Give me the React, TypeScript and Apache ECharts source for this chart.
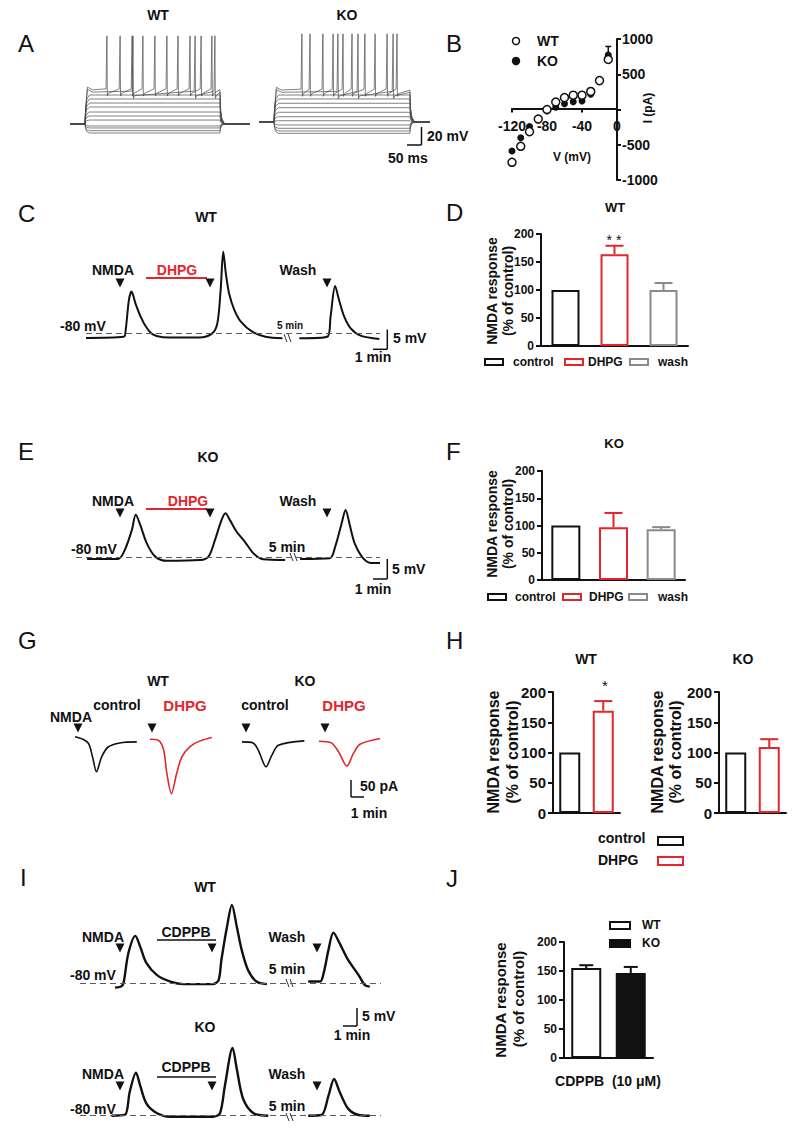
import React, { useEffect, useRef } from "react";
import * as echarts from "echarts";

const FF = "'Liberation Sans', Arial, Helvetica, sans-serif";
const FN = "'Liberation Sans Narrow', 'Liberation Sans', Arial, sans-serif";
const BLACK = "#111111";
const RED = "#e3262b";
const GRAY = "#8a8a8a";

// ---------- Panel A (current-clamp steps; ms, mV) ----------
const aRest = -70;
const aSpikePeak = 28;
const aStepOn = 50;
const aWtStepOff = 500;
const aWtEnd = 600;
const aKoStepOff = 503;
const aKoEnd = 570;
const aWtLevels = [-80, -77.4, -74.4, -72.2, -65.6, -61.1, -56.7, -51.1, -46.7, -42.2, -37.8];
const aWtPlateaus = [-32, -34.5];
const aWtSpikes1 = [123, 167, 207, 243, 283, 323, 360, 400, 437, 473];
const aWtSpikes2 = [210, 417, 483];
const aKoLevels = [-82.6, -80, -77, -73.3, -68.6, -64.1, -59.2, -54.1, -49.2, -44.4, -40];
const aKoPlateaus = [-34.5, -37];
const aKoSpikes1 = [143, 170, 213, 247, 280, 310, 353, 387, 427, 460];
const aKoSpikes2 = [263, 330, 447];

// ---------- Panel B (I-V) ----------
const bVoltage = [-120, -110, -100, -90, -80, -70, -60, -50, -40, -30, -20, -10];
const bWT = [-749, -522, -314, -135, 0, 106, 169, 203, 203, 256, 410, 710];
const bKO = [-589, -401, -242, -140, -20, 34, 82, 111, 121, 217, 400, 773];
const bKOErr = [0, 0, 0, 0, 0, 0, 0, 0, 0, 0, 0, 121];

// ---------- Panel C (WT, min / mV) ----------
const cTrace1 = [[0, -81.3], [2.9, -81.0], [3.05, -79.2], [3.3, -71.3], [3.5, -69.1], [3.8, -72.2], [4.2, -75.7], [4.6, -78.3], [5.1, -80.3], [5.9, -81.1], [8.7, -81.2], [9.7, -80.1], [10.1, -77.4], [10.35, -68.7], [10.55, -58.6], [10.75, -64.3], [11.0, -69.6], [11.4, -73.9], [11.9, -77.0], [12.8, -79.7], [13.8, -81.0], [15.1, -81.4]];
const cTrace2 = [[16.4, -81.4], [18.55, -81.0], [18.8, -75.7], [19.15, -67.6], [19.45, -71.3], [19.85, -75.7], [20.35, -78.8], [21.1, -80.7], [22.55, -81.6]];

// ---------- Panel D (WT bars) ----------
const dCats = ["control", "DHPG", "wash"];
const dValues = [100, 164, 100];
const dErrors = [0, 15, 12.5];

// ---------- Panel E (KO, min / mV) ----------
const eTrace1 = [[0.85, -80.5], [3.25, -80.5], [3.75, -78.2], [4.3, -72.9], [4.6, -68.9], [4.95, -71.6], [5.45, -76.4], [6.1, -79.9], [7.0, -81.0], [9.55, -80.8], [10.2, -79.9], [10.7, -75.5], [11.2, -70.3], [11.5, -68.5], [11.85, -70.3], [12.35, -73.3], [13.0, -76.0], [13.65, -79.0], [14.4, -80.6], [16.1, -80.8]];
const eTrace2 = [[17.25, -80.5], [19.55, -80.3], [19.95, -77.3], [20.45, -71.1], [20.75, -67.6], [21.1, -72.0], [21.45, -76.4], [22.0, -79.9], [22.6, -81.5], [23.4, -81.6]];

// ---------- Panel F (KO bars) ----------
const fCats = ["control", "DHPG", "wash"];
const fValues = [100, 97, 93];
const fErrors = [0, 26, 4];

// ---------- Panel G (voltage-clamp, min / pA) ----------
const gWtControl = [[0, 10], [0.65, 2], [1.05, -10], [1.35, -49], [1.65, -93], [2.05, -49], [2.55, -20], [3.45, -8], [4.75, -5]];
const gWtDhpg = [[0, 3], [0.65, 0], [1.05, -29], [1.3, -98], [1.65, -157], [2.05, -98], [2.45, -49], [3.1, -18], [3.85, -2], [4.75, 8]];
const gKoControl = [[0, -5], [0.85, -8], [1.25, -29], [1.85, -78], [2.3, -44], [2.8, -15], [4.8, -2]];
const gKoDhpg = [[0, -3], [0.95, -8], [1.5, -34], [2.15, -76], [2.65, -39], [3.15, -12], [4.7, 5]];

// ---------- Panel H ----------
const hCats = ["control", "DHPG"];
const hWtValues = [100, 169];
const hWtErrors = [0, 16];
const hKoValues = [100, 109];
const hKoErrors = [0, 13];

// ---------- Panel I (CDPPB, min / mV) ----------
const iWt1 = [[2.5, -81.3], [3.0, -80.8], [3.15, -79.2], [3.45, -71.8], [3.95, -66.9], [4.3, -69.9], [4.75, -74.5], [5.5, -77.8], [6.45, -79.6], [7.4, -80.3], [9.5, -80.3], [9.9, -79.2], [10.1, -73.6], [10.5, -64.4], [10.85, -58.3], [11.2, -64.4], [11.55, -70.8], [12.0, -76.4], [12.6, -79.6], [13.35, -80.3]];
const iWt2 = [[16.3, -79.6], [17.15, -79.6], [17.4, -77.3], [17.75, -70.8], [18.1, -66.0], [18.55, -69.0], [19.15, -73.6], [19.9, -77.8], [20.35, -80.6], [20.7, -81.0]];
const iKo1 = [[2.25, -80.1], [3.2, -79.9], [3.55, -73.4], [4.0, -67.9], [4.3, -71.6], [4.75, -76.7], [5.5, -79.4], [6.45, -80.4], [9.5, -80.4], [10.0, -79.4], [10.35, -71.6], [10.9, -60.9], [11.2, -66.9], [11.65, -75.3], [12.4, -79.4], [13.45, -80.1]];
const iKo2 = [[16.3, -80.1], [17.25, -79.9], [17.75, -74.4], [18.15, -69.7], [18.55, -73.4], [19.15, -78.1], [19.9, -79.9], [20.7, -80.1]];

// ---------- Panel J ----------
const jCats = ["WT", "KO"];
const jValues = [155, 146.5];
const jErrors = [5, 10.5];

// ---------- builders ----------
function stepTrace(level: number, off: number, end: number) {
  const d = level - aRest;
  return [
    [0, aRest], [aStepOn, aRest], [aStepOn + 2, aRest + 0.55 * d], [aStepOn + 6, aRest + 0.85 * d],
    [aStepOn + 15, level], [off, level], [off + 2, aRest + 0.45 * d], [off + 6, aRest + 0.15 * d],
    [off + 15, aRest], [end, aRest],
  ];
}
function spikeTrace(plateau: number, spikes: number[], off: number, end: number) {
  const pts: number[][] = [[0, aRest], [aStepOn, aRest], [aStepOn + 2, -55], [aStepOn + 8, plateau + 3], [aStepOn + 25, plateau]];
  spikes.forEach((s) => {
    pts.push([s - 3, plateau + 1], [s, aSpikePeak], [s + 1.5, plateau - 7], [s + 5, plateau - 4]);
  });
  pts.push([off, plateau], [off + 2, -55], [off + 6, -64], [off + 15, aRest], [end, aRest]);
  return pts;
}

const lineS = (g: number, data: any, color: string, width: number, extra: any = {}) => ({
  type: "line", xAxisIndex: g, yAxisIndex: g, data, showSymbol: false, symbol: "none",
  silent: true, lineStyle: { color, width }, z: 3, ...extra,
});

const baseline = (value: number) => ({
  silent: true, symbol: ["none", "none"], label: { show: false },
  lineStyle: { type: [6, 4], color: "#5a5a5a", width: 1 },
  data: [{ yAxis: value }],
});

function errSeries(g: number, xs: number[], values: number[], errs: number[], colors: string[], capHalf: number, width = 2) {
  return {
    type: "custom", xAxisIndex: g, yAxisIndex: g, silent: true, z: 4,
    data: values.map((v, i) => [xs[i], v, errs[i]]),
    renderItem: (params: any, api: any) => {
      const x = api.value(0), v = api.value(1), e = api.value(2);
      if (!e) return null;
      const p0 = api.coord([x, v]);
      const p1 = api.coord([x, v + e]);
      const c = colors[params.dataIndex];
      return {
        type: "group",
        children: [
          { type: "line", shape: { x1: p0[0], y1: p0[1], x2: p1[0], y2: p1[1] }, style: { stroke: c, lineWidth: width } },
          { type: "line", shape: { x1: p1[0] - capHalf, y1: p1[1], x2: p1[0] + capHalf, y2: p1[1] }, style: { stroke: c, lineWidth: width } },
        ],
      };
    },
  };
}

function barS(g: number, values: number[], borders: string[], fills: string[], width: number) {
  return {
    type: "bar", xAxisIndex: g, yAxisIndex: g, barWidth: width, silent: true, z: 3,
    data: values.map((v, i) => ({ value: v, itemStyle: { color: fills[i], borderColor: borders[i], borderWidth: 2 } })),
  };
}

const hiddenX = (g: number, min: number, max: number) => ({ type: "value", gridIndex: g, min, max, show: false });
const hiddenY = (g: number, min: number, max: number) => ({ type: "value", gridIndex: g, min, max, show: false });
const catX = (g: number, data: string[]) => ({
  type: "category", gridIndex: g, data,
  axisLine: { show: true, lineStyle: { color: BLACK, width: 2 } },
  axisTick: { show: false }, axisLabel: { show: false }, splitLine: { show: false },
});
const barY = (g: number, size: number) => ({
  type: "value", gridIndex: g, min: 0, max: 200, interval: 50,
  axisLine: { show: true, lineStyle: { color: BLACK, width: 2 } },
  axisTick: { show: true, length: 5, lineStyle: { color: BLACK, width: 2 } },
  axisLabel: { color: BLACK, fontFamily: FF, fontWeight: "bold", fontSize: size, margin: 7 },
  splitLine: { show: false },
});

// graphic helpers
const T = (x: number, y: number, text: string, o: any = {}) => ({
  type: "text", x, y, rotation: o.rot || 0, silent: true,
  style: {
    text, fontFamily: o.ff || FF, fontSize: o.size || 14, fontWeight: o.w || "bold",
    fill: o.color || BLACK, align: o.align || "center", verticalAlign: "middle",
  },
});
const L = (x1: number, y1: number, x2: number, y2: number, o: any = {}) => ({
  type: "line", silent: true, shape: { x1, y1, x2, y2 }, style: { stroke: o.color || BLACK, lineWidth: o.w || 1.5 },
});
const ARROW = (x: number, y: number) => ({
  type: "polygon", silent: true,
  shape: { points: [[x - 4.5, y - 4.5], [x + 4.5, y - 4.5], [x, y + 4.5]] },
  style: { fill: BLACK },
});
const BOX = (x: number, y: number, w: number, h: number, stroke: string, fill = "#fff") => ({
  type: "rect", silent: true, shape: { x, y, width: w, height: h }, style: { fill, stroke, lineWidth: 2 },
});
const CIRC = (cx: number, cy: number, r: number, fill: string) => ({
  type: "circle", silent: true, shape: { cx, cy, r }, style: { fill, stroke: BLACK, lineWidth: 1.5 },
});
const BREAK = (x: number, y: number) => [
  L(x - 4, y - 4, x - 1, y + 4, { w: 1, color: "#333" }),
  L(x, y - 4, x + 3, y + 4, { w: 1, color: "#333" }),
];
const PANEL = (x: number, y: number, t: string) => T(x, y, t, { size: 24, w: "normal", align: "left" });
const ROT = Math.PI / 2;
const SM = 0.3;

function buildOption() {
  const grids = [
    { left: 70, top: 34, width: 180, height: 103.5 }, // 0 A WT
    { left: 259, top: 32, width: 171, height: 103.5 }, // 1 A KO
    { left: 512, top: 39, width: 105, height: 141 }, // 2 B
    { left: 86, top: 238, width: 294, height: 114 }, // 3 C
    { left: 541, top: 234, width: 147, height: 112 }, // 4 D
    { left: 76, top: 462, width: 304, height: 114 }, // 5 E
    { left: 542, top: 471, width: 143, height: 109 }, // 6 F
    { left: 75, top: 730, width: 65, height: 68 }, // 7 G WT ctrl
    { left: 150, top: 730, width: 65, height: 68 }, // 8 G WT DHPG
    { left: 242, top: 730, width: 65, height: 68 }, // 9 G KO ctrl
    { left: 319, top: 730, width: 65, height: 68 }, // 10 G KO DHPG
    { left: 553, top: 692, width: 67, height: 121 }, // 11 H WT
    { left: 719, top: 692, width: 67, height: 121 }, // 12 H KO
    { left: 80, top: 893, width: 301, height: 108 }, // 13 I WT
    { left: 80, top: 1027, width: 301, height: 108 }, // 14 I KO
    { left: 564, top: 942, width: 89, height: 116 }, // 15 J
    { left: 512, top: 39, width: 105, height: 69.5 }, // 16 B voltage axis (upper half, ends at I = 0)
  ];

  const xAxis: any[] = [
    hiddenX(0, 0, aWtEnd),
    hiddenX(1, 0, aKoEnd),
    hiddenX(2, -120, 0),
    hiddenX(3, 0, 22.6),
    catX(4, dCats),
    hiddenX(5, 0, 23.4),
    catX(6, fCats),
    hiddenX(7, 0, 5), hiddenX(8, 0, 5), hiddenX(9, 0, 5), hiddenX(10, 0, 5),
    catX(11, hCats),
    catX(12, hCats),
    hiddenX(13, 0, 21.5),
    hiddenX(14, 0, 21.5),
    catX(15, jCats),
    {
      type: "value", gridIndex: 16, min: -120, max: 0, interval: 40, position: "bottom",
      axisLine: { show: true, onZero: false, lineStyle: { color: BLACK, width: 2 } },
      axisTick: { show: true, length: 4, lineStyle: { color: BLACK, width: 2 } },
      axisLabel: { color: BLACK, fontFamily: FF, fontWeight: "bold", fontSize: 14, margin: 10 },
      splitLine: { show: false },
    },
  ];
  const yAxis: any[] = [
    hiddenY(0, -85, 30),
    hiddenY(1, -85, 30),
    {
      type: "value", gridIndex: 2, position: "right", min: -1000, max: 1000, interval: 500,
      axisLine: { show: true, onZero: false, lineStyle: { color: BLACK, width: 2 } },
      axisTick: { show: true, length: 4, lineStyle: { color: BLACK, width: 2 } },
      axisLabel: {
        color: BLACK, fontFamily: FF, fontWeight: "bold", fontSize: 14, margin: 5,
        formatter: (v: number) => (v === 0 ? "" : String(v)),
      },
      splitLine: { show: false },
    },
    hiddenY(3, -85, -55),
    barY(4, 12),
    hiddenY(5, -85, -55),
    barY(6, 12),
    hiddenY(7, -170, 30), hiddenY(8, -170, 30), hiddenY(9, -170, 30), hiddenY(10, -170, 30),
    barY(11, 15),
    barY(12, 15),
    hiddenY(13, -85, -55),
    hiddenY(14, -85, -55),
    barY(15, 12),
    hiddenY(16, 0, 1000),
  ];

  const series: any[] = [];
  // Panel A
  aWtLevels.forEach((lv) => series.push(lineS(0, stepTrace(lv, aWtStepOff, aWtEnd), "#4a4a4a", 0.7)));
  series.push(lineS(0, spikeTrace(aWtPlateaus[1], aWtSpikes2, aWtStepOff, aWtEnd), "#4a4a4a", 0.7));
  series.push(lineS(0, spikeTrace(aWtPlateaus[0], aWtSpikes1, aWtStepOff, aWtEnd), "#4a4a4a", 0.7));
  aKoLevels.forEach((lv) => series.push(lineS(1, stepTrace(lv, aKoStepOff, aKoEnd), "#4a4a4a", 0.7)));
  series.push(lineS(1, spikeTrace(aKoPlateaus[1], aKoSpikes2, aKoStepOff, aKoEnd), "#4a4a4a", 0.7));
  series.push(lineS(1, spikeTrace(aKoPlateaus[0], aKoSpikes1, aKoStepOff, aKoEnd), "#4a4a4a", 0.7));

  // Panel B
  series.push(errSeries(2, bVoltage, bKO, bKOErr, bVoltage.map(() => BLACK), 3, 1.5));
  series.push({
    type: "scatter", name: "KO", xAxisIndex: 2, yAxisIndex: 2, silent: true, symbol: "circle", symbolSize: 7,
    itemStyle: { color: BLACK, opacity: 1 }, data: bVoltage.map((v, i) => [v, bKO[i]]), z: 5,
  });
  series.push({
    type: "scatter", name: "WT", xAxisIndex: 2, yAxisIndex: 2, silent: true, symbol: "circle", symbolSize: 8,
    itemStyle: { color: "#ffffff", borderColor: BLACK, borderWidth: 1.5, opacity: 1 },
    data: bVoltage.map((v, i) => [v, bWT[i]]), z: 6,
  });

  // Panel C
  series.push(lineS(3, cTrace1, BLACK, 2, { smooth: SM, markLine: baseline(-80) }));
  series.push(lineS(3, cTrace2, BLACK, 2, { smooth: SM }));

  // Panel D
  const dBorders = [BLACK, RED, GRAY];
  series.push(barS(4, dValues, dBorders, ["#fff", "#fff", "#fff"], 28));
  series.push(errSeries(4, [0, 1, 2], dValues, dErrors, dBorders, 9));

  // Panel E
  series.push(lineS(5, eTrace1, BLACK, 2, { smooth: SM, markLine: baseline(-80) }));
  series.push(lineS(5, eTrace2, BLACK, 2, { smooth: SM }));

  // Panel F
  series.push(barS(6, fValues, dBorders, ["#fff", "#fff", "#fff"], 29));
  series.push(errSeries(6, [0, 1, 2], fValues, fErrors, dBorders, 9));

  // Panel G
  series.push(lineS(7, gWtControl, BLACK, 1.6, { smooth: SM }));
  series.push(lineS(8, gWtDhpg, RED, 1.6, { smooth: SM }));
  series.push(lineS(9, gKoControl, BLACK, 1.6, { smooth: SM }));
  series.push(lineS(10, gKoDhpg, RED, 1.6, { smooth: SM }));

  // Panel H
  const hBorders = [BLACK, RED];
  series.push(barS(11, hWtValues, hBorders, ["#fff", "#fff"], 21));
  series.push(errSeries(11, [0, 1], hWtValues, hWtErrors, hBorders, 9));
  series.push(barS(12, hKoValues, hBorders, ["#fff", "#fff"], 21));
  series.push(errSeries(12, [0, 1], hKoValues, hKoErrors, hBorders, 9));

  // Panel I
  series.push(lineS(13, iWt1, BLACK, 2.4, { smooth: SM, markLine: baseline(-80) }));
  series.push(lineS(13, iWt2, BLACK, 2.4, { smooth: SM }));
  series.push(lineS(14, iKo1, BLACK, 2.4, { smooth: SM, markLine: baseline(-80) }));
  series.push(lineS(14, iKo2, BLACK, 2.4, { smooth: SM }));

  // Panel J
  series.push(barS(15, jValues, [BLACK, BLACK], ["#fff", BLACK], 30));
  series.push(errSeries(15, [0, 1], jValues, jErrors, [BLACK, BLACK], 7));

  const g: any[] = [
    // A
    PANEL(18, 43, "A"),
    T(158, 15, "WT"), T(347, 15, "KO"),
    L(421.5, 127, 421.5, 145), L(407, 145, 421.5, 145),
    T(427, 136, "20 mV", { align: "left" }),
    T(388, 158, "50 ms", { align: "left" }),
    // B
    PANEL(446, 43, "B"),
    CIRC(516, 41, 3.5, "#fff"), T(537, 41, "WT", { align: "left" }),
    CIRC(516, 61, 3.5, BLACK), T(537, 61, "KO", { align: "left" }),
    T(572, 157, "V (mV)", { size: 12 }),
    T(648, 108, "I (pA)", { size: 12, rot: ROT }),
    // C
    PANEL(18, 213, "C"),
    T(206, 217, "WT"),
    T(113, 270, "NMDA"), T(177, 270, "DHPG", { color: RED }), T(298, 270, "Wash"),
    L(146, 278, 207, 278, { color: RED, w: 2 }),
    ARROW(120, 283), ARROW(210, 283), ARROW(327, 283),
    T(60, 326, "-80 mV", { align: "left" }),
    T(290, 325, "5 min", { size: 10 }),
    ...BREAK(288, 338),
    L(387.3, 329.5, 387.3, 349.3), L(373, 349.3, 387.3, 349.3),
    T(393, 338, "5 mV", { align: "left" }),
    T(373, 357, "1 min"),
    // D
    PANEL(446, 212, "D"),
    T(615, 207, "WT", { size: 13 }),
    T(614, 240, "* *", { size: 14, w: "normal" }),
    T(492, 291, "NMDA response", { rot: ROT, size: 14 }),
    T(508, 291, "(% of control)", { rot: ROT, size: 14 }),
    BOX(485, 359, 18, 6, BLACK), T(513, 362, "control", { align: "left", size: 12 }),
    BOX(565, 359, 18, 6, RED), T(588, 362, "DHPG", { align: "left", size: 12 }),
    BOX(630, 359, 18, 6, GRAY), T(658, 362, "wash", { align: "left", size: 12 }),
    // E
    PANEL(18, 451, "E"),
    T(208, 457, "KO"),
    T(113, 501, "NMDA"), T(188, 501, "DHPG", { color: RED }), T(298, 501, "Wash"),
    L(146, 509, 207, 509, { color: RED, w: 2 }),
    ARROW(120, 513), ARROW(210, 513), ARROW(327, 513),
    T(71, 549, "-80 mV", { align: "left" }),
    T(287, 547, "5 min"),
    ...BREAK(294, 557),
    L(387.3, 559, 387.3, 579), L(373, 579, 387.3, 579),
    T(392, 569, "5 mV", { align: "left" }),
    T(373, 589, "1 min"),
    // F
    PANEL(446, 451, "F"),
    T(614, 443, "KO", { size: 13 }),
    T(492, 524, "NMDA response", { rot: ROT, size: 14 }),
    T(508, 524, "(% of control)", { rot: ROT, size: 14 }),
    BOX(488, 594, 18, 6, BLACK), T(515, 597, "control", { align: "left", size: 12 }),
    BOX(563, 594, 18, 6, RED), T(589, 597, "DHPG", { align: "left", size: 12 }),
    BOX(629, 594, 18, 6, GRAY), T(658, 597, "wash", { align: "left", size: 12 }),
    // G
    PANEL(18, 640, "G"),
    T(158, 681, "WT"), T(305, 681, "KO"),
    T(117, 705, "control"), T(185, 705, "DHPG", { color: RED, size: 15 }),
    T(265, 705, "control"), T(344, 705, "DHPG", { color: RED, size: 15 }),
    T(71, 717, "NMDA"),
    ARROW(78, 728), ARROW(152, 728), ARROW(246, 728), ARROW(325, 728),
    L(351, 780, 351, 797), L(351, 797, 364, 797),
    T(360, 786, "50 pA", { align: "left" }),
    T(369, 813, "1 min"),
    // H
    PANEL(446, 640, "H"),
    T(586, 659, "WT"), T(743, 659, "KO"),
    T(605, 685, "*", { size: 15, w: "normal" }),
    T(493, 752, "NMDA response", { rot: ROT, size: 16 }),
    T(512, 752, "(% of control)", { rot: ROT, size: 16 }),
    T(657, 752, "NMDA response", { rot: ROT, size: 16 }),
    T(675, 752, "(% of control)", { rot: ROT, size: 16 }),
    T(598, 838, "control", { align: "left" }), BOX(658, 837, 25, 8, BLACK),
    T(598, 860, "DHPG", { align: "left" }), BOX(658, 857, 25, 8, RED),
    // I
    PANEL(20, 877, "I"),
    T(205, 887, "WT"), T(205, 1027, "KO"),
    T(103, 937, "NMDA"), ARROW(120, 948),
    T(186, 932, "CDPPB"), L(157, 940, 216, 940), ARROW(212, 948),
    T(287, 937, "Wash"), ARROW(317, 948),
    T(70, 975, "-80 mV", { align: "left" }),
    T(287, 969, "5 min"),
    ...BREAK(290, 983),
    T(103, 1074, "NMDA"), ARROW(120, 1086),
    T(186, 1067, "CDPPB"), L(157, 1077, 216, 1077), ARROW(212, 1086),
    T(287, 1074, "Wash"), ARROW(317, 1086),
    T(70, 1109, "-80 mV", { align: "left" }),
    T(287, 1106, "5 min"),
    ...BREAK(290, 1117),
    L(357, 1008, 357, 1026), L(343, 1026, 357, 1026),
    T(362, 1016, "5 mV", { align: "left" }),
    T(352, 1035, "1 min"),
    // J
    PANEL(446, 878, "J"),
    BOX(610, 922, 20, 7, BLACK), T(642, 925, "WT", { align: "left", size: 12 }),
    BOX(610, 940, 20, 7, BLACK, BLACK), T(642, 943, "KO", { align: "left", size: 12 }),
    T(500, 1000, "NMDA response", { rot: ROT, size: 15, ff: FN }),
    T(518, 999, "(% of control)", { rot: ROT, size: 15, ff: FN }),
    T(608, 1081, "CDPPB  (10 μM)", { size: 14 }),
  ];

  return {
    animation: false,
    backgroundColor: "#ffffff",
    grid: grids,
    xAxis,
    yAxis,
    series,
    graphic: { elements: g },
  };
}

export default function App() {
  const ref = useRef<HTMLDivElement>(null);
  useEffect(() => {
    if (!ref.current) return;
    const chart = echarts.init(ref.current, null, { renderer: "svg" });
    chart.setOption(buildOption() as any);
    return () => chart.dispose();
  }, []);
  return (
    <div
      ref={ref}
      style={{ position: "absolute", left: 0, top: 0, width: 800, height: 1133, background: "#fff" }}
    />
  );
}
